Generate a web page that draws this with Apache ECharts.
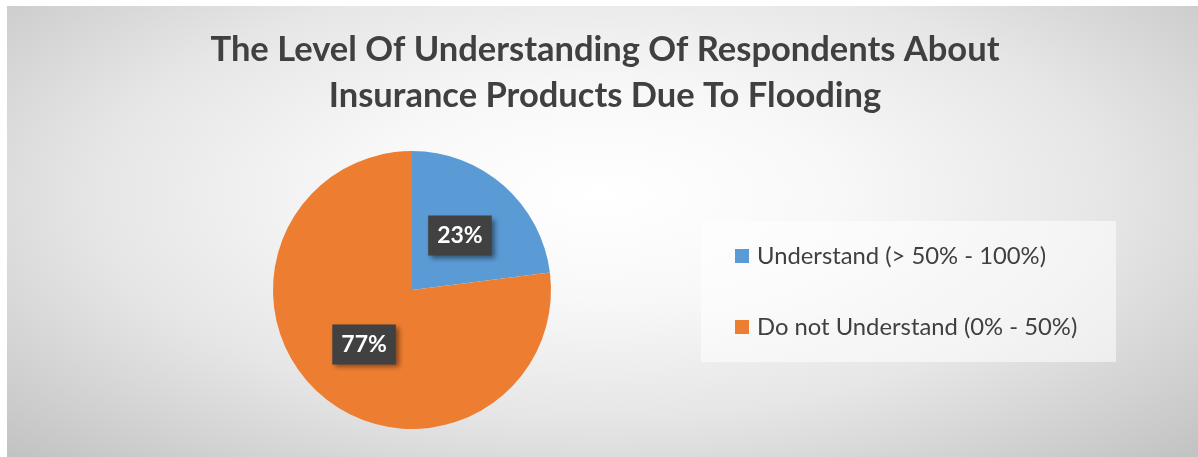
<!DOCTYPE html>
<html>
<head>
<meta charset="utf-8">
<script src="https://cdn.jsdelivr.net/npm/echarts@6/dist/echarts.min.js"></script>
<style>
html,body{margin:0;padding:0;background:#ffffff;}
#chart{position:absolute;left:7px;top:6px;width:1191px;height:451px;
background:radial-gradient(ellipse farthest-corner at 50% 42%, #ffffff 0%, #f8f8f8 28%, #e6e6e6 60%, #c2c2c2 100%);}
</style>
</head>
<body>
<div id="chart"></div>
<script>
const titleLines = ['The Level Of Understanding Of Respondents About', 'Insurance Products Due To Flooding'];
const categories = ['Understand (> 50% - 100%)', 'Do not Understand (0% - 50%)'];
const values = [23, 77];
const colors = ['#5b9bd5', '#ed7d31'];

const chart = echarts.init(document.getElementById('chart'), null, {renderer: 'canvas'});
chart.setOption({
  backgroundColor: 'transparent',
  animation: false,
  title: {
    text: titleLines.join('\n'),
    left: 593,
    textAlign: 'center',
    top: 16,
    textStyle: {
      fontFamily: 'Lato', fontWeight: 'bold', fontSize: 34.5, lineHeight: 46, color: '#404040'
    }
  },
  graphic: [{
    type: 'rect', left: 694, top: 215, z: -1,
    shape: {width: 415, height: 141},
    style: {fill: 'rgba(255,255,255,0.55)'}
  }],
  legend: {
    orient: 'vertical',
    left: 723, top: 233,
    itemWidth: 14, itemHeight: 14, itemGap: 47,
    icon: 'rect',
    data: categories,
    textStyle: {fontFamily: 'Lato', fontSize: 23.8, lineHeight: 24, color: '#404040', padding: [0, 0, 0, 3]}
  },
  series: [{
    type: 'pie',
    center: [405, 284],
    radius: 139,
    startAngle: 90,
    clockwise: true,
    data: categories.map((c, i) => ({name: c, value: values[i], itemStyle: {color: colors[i]}})),
    label: {
      show: true,
      position: 'inside',
      formatter: p => p.value + '%',
      fontFamily: 'Lato', fontWeight: 'bold', fontSize: 23, color: '#ffffff',
      backgroundColor: '#414141',
      padding: [9, 9, 8, 9],
      shadowBlur: 5, shadowOffsetX: 3, shadowOffsetY: 3, shadowColor: 'rgba(0,0,0,0.45)'
    },
    labelLine: {show: false},
    emphasis: {disabled: true}
  }]
});
</script>
</body>
</html>
